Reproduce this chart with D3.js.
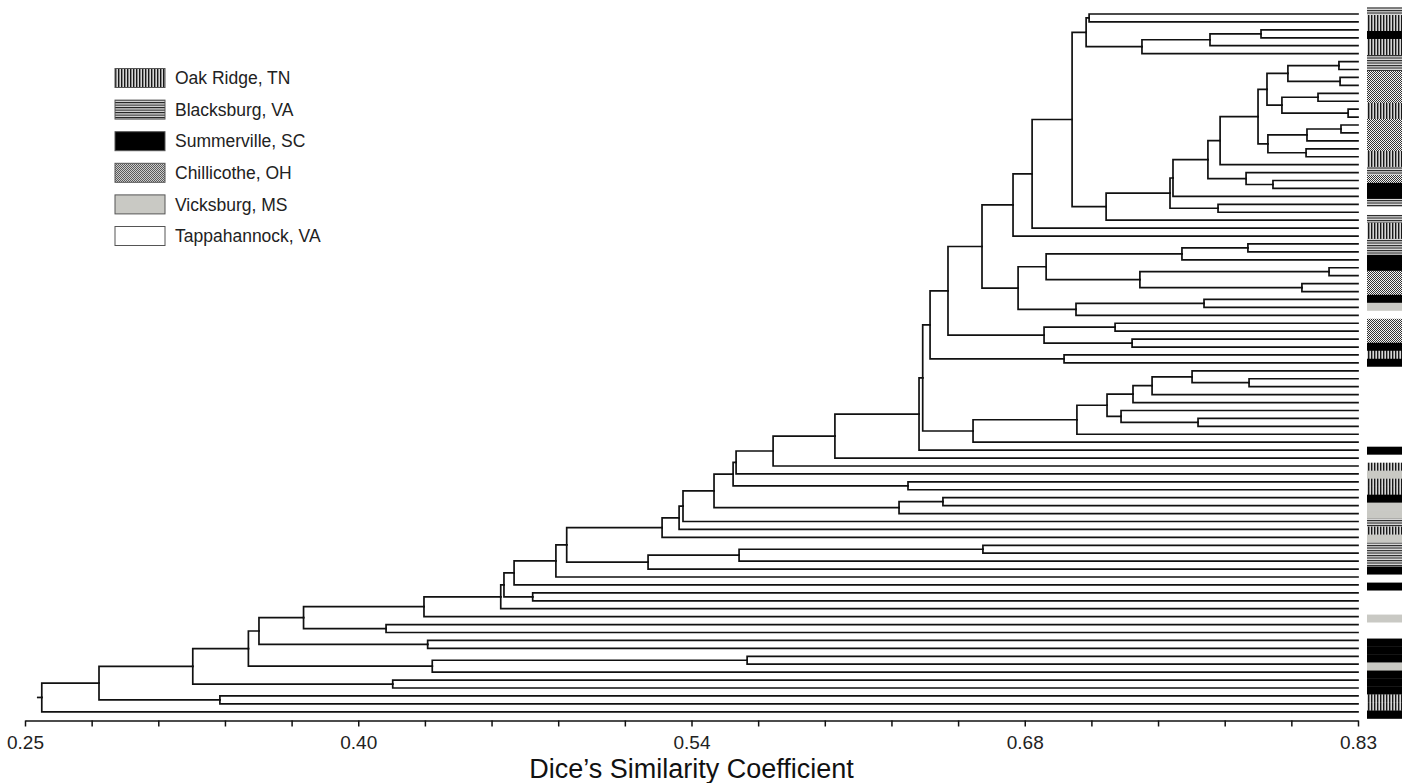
<!DOCTYPE html>
<html>
<head>
<meta charset="utf-8">
<script src="https://cdn.jsdelivr.net/npm/d3@7"></script>
<style>
  html, body { margin: 0; padding: 0; background: #fff; }
  svg { display: block; font-family: "Liberation Sans", Arial, Helvetica, sans-serif; }
</style>
</head>
<body>
<svg id="chart" width="1409" height="783"></svg>
<script>
// Collection sites (legend order) and their short codes
const siteNames = ["Oak Ridge, TN", "Blacksburg, VA", "Summerville, SC", "Chillicothe, OH", "Vicksburg, MS", "Tappahannock, VA"];
const siteCodes = ["O", "B", "S", "C", "V", "T"];

// Site of each isolate, listed in dendrogram leaf order (top to bottom)
const leafSites = [
  "B","O","O","S","O","O","B","B","C","C",
  "C","C","O","O","C","C","C","C","O","O",
  "B","C","S","S","B","T","B","O","O","B",
  "B","S","S","C","C","C","S","V","T","C",
  "C","C","S","O","S","T","T","T","T","T",
  "T","T","T","T","T","S","T","O","V","O",
  "O","S","V","V","B","O","V","B","B","B",
  "S","T","S","T","T","T","V","T","T","S",
  "S","S","V","S","S","S","O","O","S"
];

// Agglomeration steps: [left, right, Dice similarity]
// negative = leaf (-1 is the first leaf), positive = earlier step (1-based)
const merges = [
  [-1, -2, 0.7130], [-3, -4, 0.7878], [2, -5, 0.7656], [3, -6, 0.7360], [1, 4, 0.7117],
  [-7, -8, 0.8217], [-9, -10, 0.8222], [6, 7, 0.7995], [-11, -12, 0.8126], [-13, -14, 0.8257],
  [9, 10, 0.7969], [8, 11, 0.7904], [-15, -16, 0.8226], [13, -17, 0.8078], [-18, -19, 0.8074],
  [14, 15, 0.7908], [12, 16, 0.7865], [17, -20, 0.7700], [-22, -23, 0.7930], [-21, 19, 0.7813],
  [18, 20, 0.7647], [21, -24, 0.7495], [-25, -26, 0.7691], [22, 23, 0.7482], [24, -27, 0.7204],
  [5, 25, 0.7056], [26, -28, 0.6882], [27, -29, 0.6799], [-30, -31, 0.7821], [29, -32, 0.7534],
  [-33, -34, 0.8174], [-35, -36, 0.8056], [31, 32, 0.7351], [30, 33, 0.6943], [-37, -38, 0.7630],
  [35, -39, 0.7073], [34, 36, 0.6821], [28, 37, 0.6664], [-40, -41, 0.7243], [-42, -43, 0.7317],
  [39, 40, 0.6934], [38, 41, 0.6516], [-44, -45, 0.7021], [42, 43, 0.6438], [-47, -48, 0.7826],
  [-46, 45, 0.7578], [46, -49, 0.7404], [47, -50, 0.7321], [-52, -53, 0.7604], [-51, 49, 0.7269],
  [48, 50, 0.7208], [51, -54, 0.7077], [52, -55, 0.6625], [44, 53, 0.6406], [54, -56, 0.6390],
  [55, -57, 0.6024], [56, -58, 0.5755], [57, -59, 0.5594], [-60, -61, 0.6342], [58, 59, 0.5581],
  [-62, -63, 0.6494], [61, -64, 0.6303], [60, 62, 0.5498], [63, -65, 0.5363], [64, -66, 0.5346],
  [65, -67, 0.5272], [-68, -69, 0.6668], [67, -70, 0.5607], [68, -71, 0.5211], [66, 69, 0.4857],
  [70, -72, 0.4810], [71, -73, 0.4628], [-74, -75, 0.4709], [72, 73, 0.4584], [74, -76, 0.4570],
  [75, -77, 0.4236], [-78, -79, 0.4071], [76, 77, 0.3712], [-80, -81, 0.4252], [78, 79, 0.3518],
  [-82, -83, 0.5642], [81, -84, 0.4272], [80, 82, 0.3472], [-85, -86, 0.4100], [83, 84, 0.3230],
  [-87, -88, 0.3348], [85, 86, 0.2822], [87, -89, 0.2573]
];

// Axis
const axisDomain = [0.25, 0.83];
const tickLabels = ["0.25", "0.40", "0.54", "0.68", "0.83"];
const minorPerMajor = 5;
const axisTitle = "Dice\u2019s Similarity Coefficient";

// ---------------------------------------------------------------
const svg = d3.select("#chart");

const x = d3.scaleLinear().domain(axisDomain).range([25, 1358]);
const yLeaf = d3.scaleLinear().domain([0, leafSites.length - 1]).range([14, 711.8]);
const yBar = d3.scaleBand().domain(d3.range(leafSites.length)).range([7, 718.5]).paddingInner(0);

// Fill patterns for the sites
const defs = svg.append("defs");
const pO = defs.append("pattern").attr("id", "pat-O").attr("patternUnits", "userSpaceOnUse")
  .attr("width", 3).attr("height", 4);
pO.append("rect").attr("width", 3).attr("height", 4).attr("fill", "#d6d6d6");
pO.append("rect").attr("width", 1.4).attr("height", 4).attr("fill", "#181818");

const pB = defs.append("pattern").attr("id", "pat-B").attr("patternUnits", "userSpaceOnUse")
  .attr("width", 4).attr("height", 2.5);
pB.append("rect").attr("width", 4).attr("height", 2.5).attr("fill", "#dcdcdc");
pB.append("rect").attr("width", 4).attr("height", 1.1).attr("fill", "#222");

const pC = defs.append("pattern").attr("id", "pat-C").attr("patternUnits", "userSpaceOnUse")
  .attr("width", 2).attr("height", 2);
pC.append("rect").attr("width", 2).attr("height", 2).attr("fill", "#f4f4f4");
pC.append("rect").attr("width", 1).attr("height", 1).attr("fill", "#333");
pC.append("rect").attr("x", 1).attr("y", 1).attr("width", 1).attr("height", 1).attr("fill", "#333");

const siteFill = {
  O: "url(#pat-O)",
  B: "url(#pat-B)",
  S: "#000000",
  C: "url(#pat-C)",
  V: "#c9c9c4",
  T: "#ffffff"
};

// Build nested tree from the merge table
function buildNode(ref) {
  if (ref < 0) return { leaf: -ref - 1 };
  const m = merges[ref - 1];
  return { sim: m[2], children: [buildNode(m[0]), buildNode(m[1])] };
}
const root = d3.hierarchy(buildNode(merges.length));

root.eachAfter(n => {
  if (!n.children) {
    n.px = x(axisDomain[1]);
    n.py = yLeaf(n.data.leaf);
  } else {
    n.px = x(n.data.sim);
    n.py = (n.children[0].py + n.children[n.children.length - 1].py) / 2;
  }
});

// Dendrogram elbows
const gTree = svg.append("g")
  .attr("fill", "none")
  .attr("stroke", "#111")
  .attr("stroke-width", 1.7)
  .attr("stroke-linecap", "square");

gTree.selectAll("path.link")
  .data(root.links())
  .join("path")
  .attr("class", "link")
  .attr("d", l => `M${l.target.px},${l.target.py}H${l.source.px}V${l.source.py}`);

// Root stub
gTree.append("path")
  .attr("d", `M${root.px - 4},${root.py}H${root.px}`);

// Site bar column
svg.append("g")
  .selectAll("rect")
  .data(leafSites.map((s, i) => ({ s, i })))
  .join("rect")
  .attr("x", 1367)
  .attr("width", 35)
  .attr("y", d => yBar(d.i))
  .attr("height", yBar.bandwidth() + 0.3)
  .attr("fill", d => siteFill[d.s]);

// Axis
const nTicks = (tickLabels.length - 1) * minorPerMajor;
const tickStep = (axisDomain[1] - axisDomain[0]) / nTicks;
const tickValues = d3.range(nTicks + 1).map(i => axisDomain[0] + i * tickStep);

const axis = d3.axisBottom(x)
  .tickValues(tickValues)
  .tickSize(6)
  .tickSizeOuter(0)
  .tickPadding(9)
  .tickFormat((d, i) => (i % minorPerMajor === 0 ? tickLabels[i / minorPerMajor] : ""));

const gAxis = svg.append("g")
  .attr("transform", "translate(0,720.5)")
  .call(axis);
gAxis.select(".domain").attr("stroke", "#111").attr("stroke-width", 1.5);
gAxis.selectAll(".tick line").attr("stroke", "#111").attr("stroke-width", 1.5);
gAxis.selectAll(".tick text")
  .attr("font-size", 19)
  .attr("fill", "#222")
  .attr("font-family", "'Liberation Sans', Arial, sans-serif");

svg.append("text")
  .attr("x", (x.range()[0] + x.range()[1]) / 2)
  .attr("y", 777.5)
  .attr("text-anchor", "middle")
  .attr("font-size", 27)
  .attr("fill", "#111")
  .text(axisTitle);

// Legend
const legend = svg.append("g");
const legendItems = legend.selectAll("g")
  .data(siteNames.map((name, i) => ({ name, code: siteCodes[i], i })))
  .join("g")
  .attr("transform", d => `translate(115,${78 + d.i * 31.6})`);

legendItems.append("rect")
  .attr("x", 0)
  .attr("y", -9.5)
  .attr("width", 50)
  .attr("height", 19)
  .attr("fill", d => siteFill[d.code])
  .attr("stroke", "#555")
  .attr("stroke-width", 1);

legendItems.append("text")
  .attr("x", 60)
  .attr("y", 0)
  .attr("dy", "0.35em")
  .attr("font-size", 17.5)
  .attr("fill", "#222")
  .text(d => d.name);
</script>
</body>
</html>
